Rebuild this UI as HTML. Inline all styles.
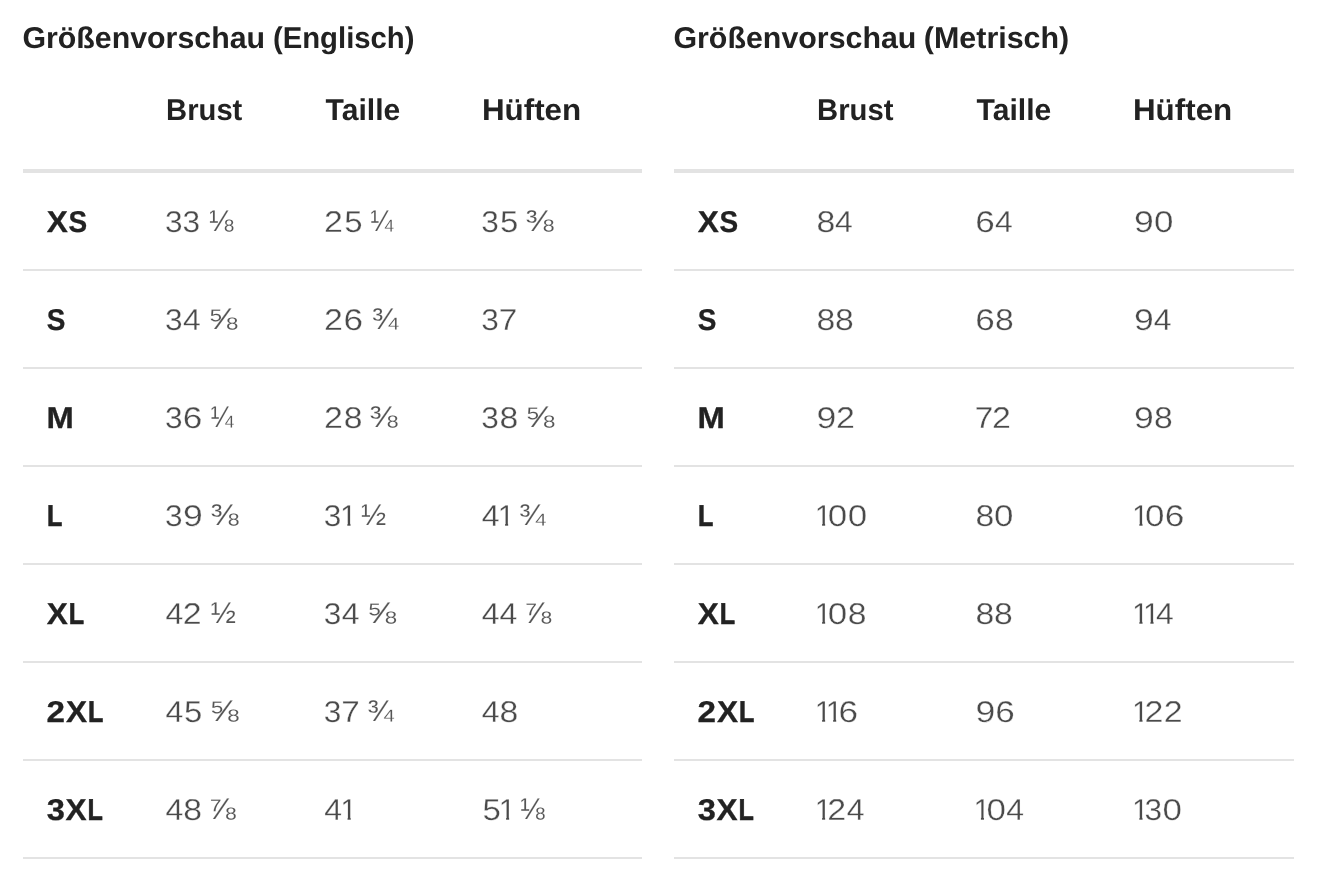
<!DOCTYPE html>
<html lang="de">
<head>
<meta charset="utf-8">
<title>Größenvorschau</title>
<style>
html,body{margin:0;padding:0;background:#fff;}
body{width:1322px;height:892px;overflow:hidden;position:relative;font-family:"Liberation Sans",sans-serif;color:#222;text-rendering:geometricPrecision;}
.panel{position:absolute;top:0;width:619px;height:892px;}
.panel.l{left:23px;}
.panel.r{left:674px;width:620px;}
.panel.r table{width:620px;}
.t{display:inline-block;transform-origin:0 50%;}
h2{margin:0;position:absolute;left:0;top:21px;font-size:30px;line-height:36px;font-weight:bold;color:#222;white-space:nowrap;}
table{position:absolute;left:0;top:64px;width:619px;border-collapse:separate;border-spacing:0;table-layout:fixed;font-size:30px;}
col.c0{width:119px;}
col.c1{width:159px;}
col.c2{width:158px;}
col.c3{width:183px;}
th,td{padding:0 0 0 24px;text-align:left;white-space:nowrap;box-sizing:border-box;}
thead th{height:109px;font-weight:bold;color:#222;border-bottom:4px solid #e3e3e3;vertical-align:top;padding-top:28px;line-height:38px;}
tbody th{font-weight:bold;color:#222;}
tbody td{color:#555;word-spacing:-0.335px;}
.n,.f,.b{display:inline-block;transform-origin:0 18px;}
tbody th,tbody td{height:98px;border-bottom:2px solid #e3e3e3;line-height:38px;vertical-align:middle;padding-top:4px;}
.n{color:#4a4a4a;-webkit-text-stroke:0.3px #fff}
.f{color:#555;-webkit-text-stroke:0.1px #fff}
.d1{clip-path:polygon(0 0,10.4px 0,10.4px 38px,7.4px 38px,7.4px 24.8px,0 24.8px)}
.b{-webkit-text-stroke:0.3px #222}
.bL{-webkit-text-stroke:0.6px #222}
.d0{width:20px;transform:translateX(var(--x)) scaleX(1.1643)}
.d1{width:11px;transform:translateX(var(--x)) scaleX(1.0067)}
.d2{width:19px;transform:translateX(var(--x)) scaleX(1.1321)}
.d3{width:18px;transform:translateX(var(--x)) scaleX(1.0545)}
.d4{width:18px;transform:translateX(var(--x)) scaleX(1.0667)}
.d5{width:19px;transform:translateX(var(--x)) scaleX(1.0982)}
.d6{width:20px;transform:translateX(var(--x)) scaleX(1.1667)}
.d7{width:17px;transform:translateX(var(--x)) scaleX(1.1094)}
.d8{width:18px;transform:translateX(var(--x)) scaleX(1.1236)}
.d9{width:20px;transform:translateX(var(--x)) scaleX(1.1852)}
.f18{transform:translate(var(--x),-1px) scaleX(0.9853)}
.f14{transform:translate(var(--x),-1px) scaleX(0.9072)}
.f38{transform:translate(var(--x),-1px) scaleX(1.1208)}
.f12{transform:translate(var(--x),-1px) scaleX(1.0065)}
.f58{transform:translate(var(--x),-1px) scaleX(1.1714)}
.f34{transform:translate(var(--x),-1px) scaleX(1.0583)}
.f78{transform:translate(var(--x),-1px) scaleX(1.0978)}
.bX{width:22px;transform:translateX(var(--x)) scaleX(1.0538)}
.bS{width:19px;transform:translateX(var(--x)) scaleX(0.9315)}
.bM{width:27px;transform:translateX(var(--x)) scaleX(1.0930)}
.bL{width:16px;transform:translateX(var(--x)) scaleX(0.8375)}
.b2{width:19px;transform:translateX(var(--x)) scaleX(1.1051)}
.b3{width:19px;transform:translateX(var(--x)) scaleX(1.0885)}
</style>
</head>
<body>
<section class="panel l">
<h2><span class="t" style="transform:translateX(-0.57px) scaleX(1.0106)">Größenvorschau</span> <span class="t" style="transform:translateX(1.94px) scaleX(0.9762)">(Englisch)</span></h2>
<table>
<colgroup><col class="c0"><col class="c1"><col class="c2"><col class="c3"></colgroup>
<thead><tr><th></th><th><span class="t" style="transform:translateX(0.10px) scaleX(0.9731)">Brust</span></th><th><span class="t" style="transform:translateX(0.57px) scaleX(1.0034)">Taille</span></th><th><span class="t" style="transform:translateX(-1.12px) scaleX(1.0458)">Hüften</span></th></tr></thead>
<tbody>
<tr><th><span class="b bX" style="--x:-0.36px">X</span><span class="b bS" style="--x:-0.6px">S</span></th><td><span class="n d3" style="--x:-0.93px">3</span><span class="n d3" style="--x:-1.43px">3</span> <span class="f f18" style="--x:-1.13px">⅛</span></td><td><span class="n d2" style="--x:-1.08px">2</span><span class="n d5" style="--x:0.3px">5</span> <span class="f f14" style="--x:-0.51px">¼</span></td><td><span class="n d3" style="--x:-1.63px">3</span><span class="n d5" style="--x:-1px">5</span> <span class="f f38" style="--x:-2.52px">⅜</span></td></tr>
<tr><th><span class="b bS" style="--x:-0.2px">S</span></th><td><span class="n d3" style="--x:-0.93px">3</span><span class="n d4" style="--x:-1px">4</span> <span class="f f58" style="--x:-2.04px">⅝</span></td><td><span class="n d2" style="--x:-1.08px">2</span><span class="n d6" style="--x:-0.54px">6</span> <span class="f f34" style="--x:-0.37px">¾</span></td><td><span class="n d3" style="--x:-1.63px">3</span><span class="n d7" style="--x:-2.24px">7</span></td></tr>
<tr><th><span class="b bM" style="--x:-0.41px">M</span></th><td><span class="n d3" style="--x:-0.93px">3</span><span class="n d6" style="--x:-1.14px">6</span> <span class="f f14" style="--x:-1.21px">¼</span></td><td><span class="n d2" style="--x:-1.08px">2</span><span class="n d8" style="--x:-0.29px">8</span> <span class="f f38" style="--x:-0.42px">⅜</span></td><td><span class="n d3" style="--x:-1.63px">3</span><span class="n d8" style="--x:-1.59px">8</span> <span class="f f58" style="--x:-1.94px">⅝</span></td></tr>
<tr><th><span class="b bL" style="--x:0.03px">L</span></th><td><span class="n d3" style="--x:-0.93px">3</span><span class="n d9" style="--x:-0.88px">9</span> <span class="f f38" style="--x:-1.52px">⅜</span></td><td><span class="n d3" style="--x:-1.13px">3</span><span class="n d1" style="--x:-3.02px">1</span> <span class="f f12" style="--x:-0.96px">½</span></td><td><span class="n d4" style="--x:-1.2px">4</span><span class="n d1" style="--x:-3.32px">1</span> <span class="f f34" style="--x:-1.02px">¾</span></td></tr>
<tr><th><span class="b bX" style="--x:-0.36px">X</span><span class="b bL" style="--x:-0.37px">L</span></th><td><span class="n d4" style="--x:-0.5px">4</span><span class="n d2" style="--x:-1.18px">2</span> <span class="f f12" style="--x:-0.31px">½</span></td><td><span class="n d3" style="--x:-1.13px">3</span><span class="n d4" style="--x:-1.2px">4</span> <span class="f f58" style="--x:-2.24px">⅝</span></td><td><span class="n d4" style="--x:-1.2px">4</span><span class="n d4" style="--x:-1.5px">4</span> <span class="f f78" style="--x:-3.14px">⅞</span></td></tr>
<tr><th><span class="b b2" style="--x:-0.46px">2</span><span class="b bX" style="--x:-0.06px">X</span><span class="b bL" style="--x:-0.07px">L</span></th><td><span class="n d4" style="--x:-0.5px">4</span><span class="n d5" style="--x:-0.1px">5</span> <span class="f f58" style="--x:-1.84px">⅝</span></td><td><span class="n d3" style="--x:-1.13px">3</span><span class="n d7" style="--x:-1.74px">7</span> <span class="f f34" style="--x:-0.77px">¾</span></td><td><span class="n d4" style="--x:-1.2px">4</span><span class="n d8" style="--x:-1.39px">8</span></td></tr>
<tr><th><span class="b b3" style="--x:-0.24px">3</span><span class="b bX" style="--x:-0.46px">X</span><span class="b bL" style="--x:-0.47px">L</span></th><td><span class="n d4" style="--x:-0.5px">4</span><span class="n d8" style="--x:-0.69px">8</span> <span class="f f78" style="--x:-1.64px">⅞</span></td><td><span class="n d4" style="--x:-0.7px">4</span><span class="n d1" style="--x:-2.82px">1</span></td><td><span class="n d5" style="--x:-0.5px">5</span><span class="n d1" style="--x:-3.32px">1</span> <span class="f f18" style="--x:-1.08px">⅛</span></td></tr>
</tbody>
</table>
</section>
<section class="panel r">
<h2><span class="t" style="transform:translateX(-0.57px) scaleX(1.0121)">Größenvorschau</span> <span class="t" style="transform:translateX(1.84px) scaleX(1.0144)">(Metrisch)</span></h2>
<table>
<colgroup><col class="c0"><col class="c1"><col class="c2"><col class="c3"></colgroup>
<thead><tr><th></th><th><span class="t" style="transform:translateX(0.10px) scaleX(0.9748)">Brust</span></th><th><span class="t" style="transform:translateX(0.57px) scaleX(1.0033)">Taille</span></th><th><span class="t" style="transform:translateX(-2.02px) scaleX(1.0451)">Hüften</span></th></tr></thead>
<tbody>
<tr><th><span class="b bX" style="--x:-0.36px">X</span><span class="b bS" style="--x:-0.6px">S</span></th><td><span class="n d8" style="--x:-0.39px">8</span><span class="n d4" style="--x:0px">4</span></td><td><span class="n d6" style="--x:-0.84px">6</span><span class="n d4" style="--x:-1.1px">4</span></td><td><span class="n d9" style="--x:-1.08px">9</span><span class="n d0" style="--x:-1.06px">0</span></td></tr>
<tr><th><span class="b bS" style="--x:-0.2px">S</span></th><td><span class="n d8" style="--x:-0.39px">8</span><span class="n d8" style="--x:0.11px">8</span></td><td><span class="n d6" style="--x:-0.84px">6</span><span class="n d8" style="--x:-0.99px">8</span></td><td><span class="n d9" style="--x:-1.08px">9</span><span class="n d4" style="--x:-1.2px">4</span></td></tr>
<tr><th><span class="b bM" style="--x:-0.41px">M</span></th><td><span class="n d9" style="--x:-0.38px">9</span><span class="n d2" style="--x:-0.88px">2</span></td><td><span class="n d7" style="--x:-1.24px">7</span><span class="n d2" style="--x:-1.08px">2</span></td><td><span class="n d9" style="--x:-1.08px">9</span><span class="n d8" style="--x:-1.09px">8</span></td></tr>
<tr><th><span class="b bL" style="--x:0.03px">L</span></th><td><span class="n d1" style="--x:-2.32px">1</span><span class="n d0" style="--x:-0.31px">0</span><span class="n d0" style="--x:-0.31px">0</span></td><td><span class="n d8" style="--x:-0.59px">8</span><span class="n d0" style="--x:-0.06px">0</span></td><td><span class="n d1" style="--x:-3.02px">1</span><span class="n d0" style="--x:-1.01px">0</span><span class="n d6" style="--x:-1.29px">6</span></td></tr>
<tr><th><span class="b bX" style="--x:-0.36px">X</span><span class="b bL" style="--x:-0.37px">L</span></th><td><span class="n d1" style="--x:-2.32px">1</span><span class="n d0" style="--x:-0.31px">0</span><span class="n d8" style="--x:-0.34px">8</span></td><td><span class="n d8" style="--x:-0.59px">8</span><span class="n d8" style="--x:-0.09px">8</span></td><td><span class="n d1" style="--x:-3.02px">1</span><span class="n d1" style="--x:-2.97px">1</span><span class="n d4" style="--x:-1.1px">4</span></td></tr>
<tr><th><span class="b b2" style="--x:-0.46px">2</span><span class="b bX" style="--x:-0.06px">X</span><span class="b bL" style="--x:-0.07px">L</span></th><td><span class="n d1" style="--x:-2.32px">1</span><span class="n d1" style="--x:-2.27px">1</span><span class="n d6" style="--x:-0.54px">6</span></td><td><span class="n d9" style="--x:-0.58px">9</span><span class="n d6" style="--x:-0.84px">6</span></td><td><span class="n d1" style="--x:-3.02px">1</span><span class="n d2" style="--x:-1.53px">2</span><span class="n d2" style="--x:-1.23px">2</span></td></tr>
<tr><th><span class="b b3" style="--x:-0.24px">3</span><span class="b bX" style="--x:-0.46px">X</span><span class="b bL" style="--x:-0.47px">L</span></th><td><span class="n d1" style="--x:-2.32px">1</span><span class="n d2" style="--x:-0.83px">2</span><span class="n d4" style="--x:-0.15px">4</span></td><td><span class="n d1" style="--x:-2.52px">1</span><span class="n d0" style="--x:-0.51px">0</span><span class="n d4" style="--x:-0.65px">4</span></td><td><span class="n d1" style="--x:-3.02px">1</span><span class="n d3" style="--x:-1.58px">3</span><span class="n d0" style="--x:-1.51px">0</span></td></tr>
</tbody>
</table>
</section>
</body>
</html>
